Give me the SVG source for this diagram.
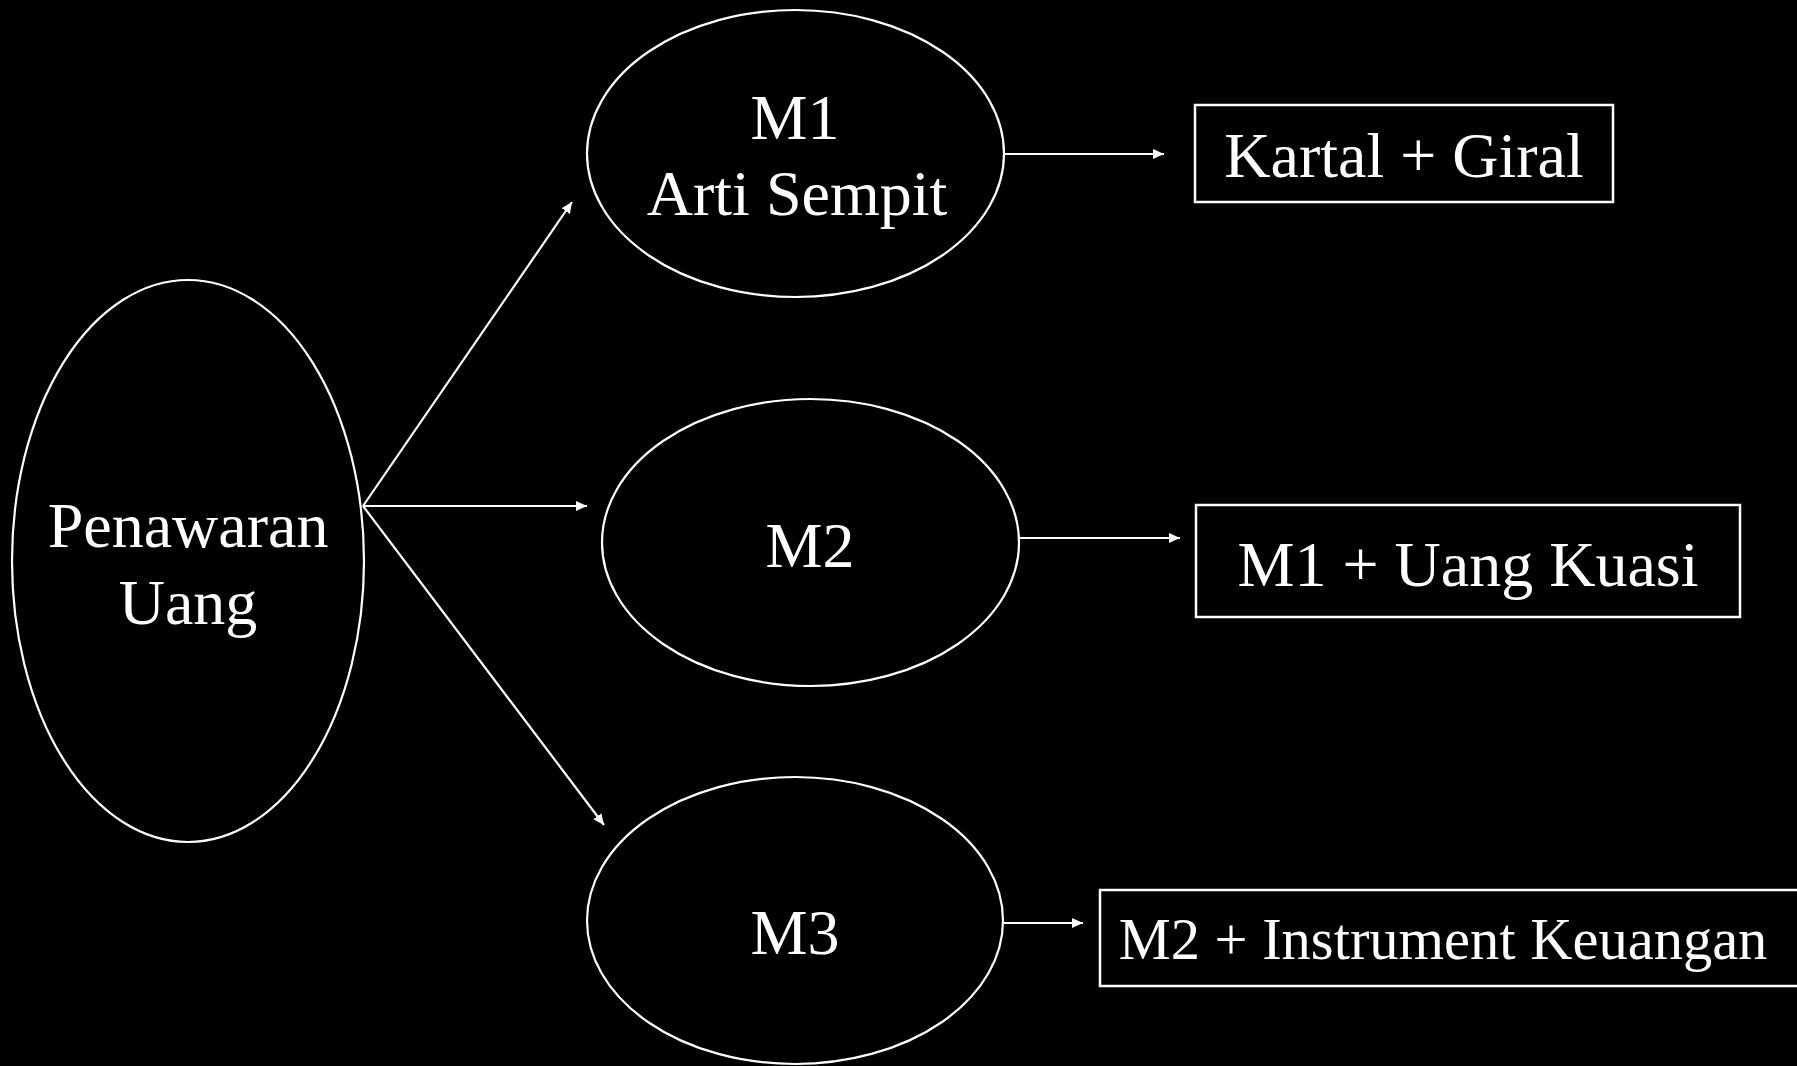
<svg xmlns="http://www.w3.org/2000/svg" width="1797" height="1066" viewBox="0 0 1797 1066">
<style>
.shape{fill:#000;stroke:#fff;stroke-width:2.2}
.box{fill:#000;stroke:#fff;stroke-width:2.5}
.lbl{fill:#fff;font-family:"Liberation Serif","Times New Roman",serif;font-size:64px;text-anchor:middle}
.conn{stroke:#fff;stroke-width:2.2;fill:none;marker-end:url(#ah)}
</style>
<defs>
<marker id="ah" markerUnits="userSpaceOnUse" markerWidth="13" markerHeight="11" refX="11" refY="5.5" orient="auto">
<path d="M0,0.5 L11,5.5 L0,10.5 z" fill="#fff"/>
</marker>
</defs>
<rect width="1797" height="1066" fill="#000"/>
<g id="connectors">
<line class="conn" x1="363" y1="506" x2="572" y2="202"/>
<line class="conn" x1="363" y1="506" x2="587" y2="506"/>
<line class="conn" x1="363" y1="506" x2="604" y2="825"/>
<line class="conn" x1="1004" y1="154" x2="1164" y2="154"/>
<line class="conn" x1="1019" y1="538" x2="1180" y2="538"/>
<line class="conn" x1="1003" y1="923" x2="1083" y2="923"/>
</g>
<g id="penawaran">
<ellipse class="shape" cx="188" cy="561" rx="176" ry="281"/>
<text class="lbl" x="188" y="547">Penawaran</text>
<text class="lbl" x="188" y="624">Uang</text>
</g>
<g id="m1">
<ellipse class="shape" cx="795.5" cy="153.5" rx="208.5" ry="143.5"/>
<text class="lbl" x="795" y="139">M1</text>
<text class="lbl" x="797" y="215">Arti Sempit</text>
</g>
<g id="m2">
<ellipse class="shape" cx="810.5" cy="542.5" rx="208.5" ry="143.5"/>
<text class="lbl" x="810" y="567">M2</text>
</g>
<g id="m3">
<ellipse class="shape" cx="795" cy="920.5" rx="208" ry="143.5"/>
<text class="lbl" x="795" y="954">M3</text>
</g>
<g id="kartal">
<rect class="box" x="1195" y="105" width="418" height="97"/>
<text class="lbl" x="1404" y="177">Kartal + Giral</text>
</g>
<g id="uangkuasi">
<rect class="box" x="1196" y="505" width="544" height="112"/>
<text class="lbl" x="1468" y="586">M1 + Uang Kuasi</text>
</g>
<g id="instrument">
<rect class="box" x="1100" y="890" width="710" height="96"/>
<text class="lbl" x="1443" y="959" style="font-size:58.5px">M2 + Instrument Keuangan</text>
</g>
</svg>
